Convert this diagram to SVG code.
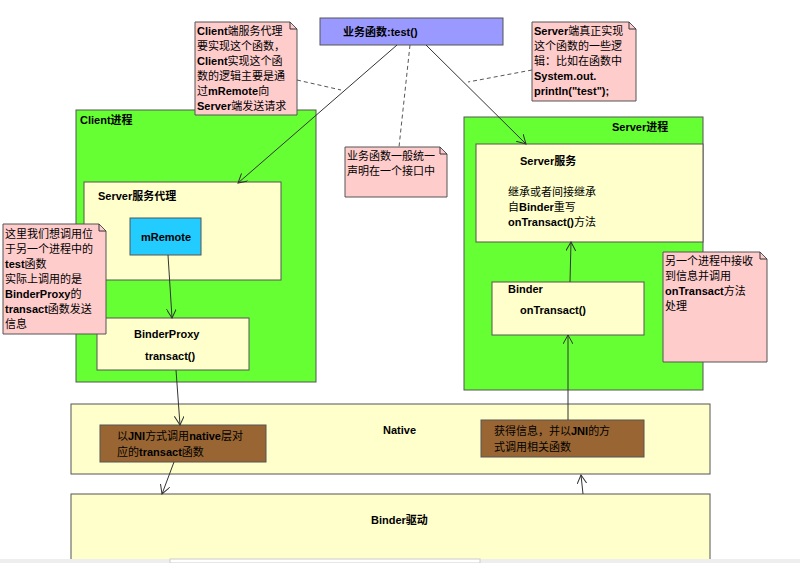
<svg xmlns="http://www.w3.org/2000/svg" width="800" height="563" viewBox="0 0 800 563">
<defs>
<style>
text{font-family:"Liberation Sans","Noto Sans CJK SC",sans-serif;font-size:11px;fill:#000}
.b{font-weight:bold}
.box{stroke:#555;stroke-width:1}
.note{fill:#ffcccc;stroke:#555;stroke-width:1}
.y{fill:#ffffcc}
.g{fill:#66ff33}
.br{fill:#996633}
.c{stroke:#333;stroke-width:1;fill:none}
.d{stroke:#555;stroke-width:1;fill:none;stroke-dasharray:4,3}
</style>
<marker id="a" markerWidth="10" markerHeight="10" refX="9" refY="5" orient="auto" markerUnits="userSpaceOnUse"><path d="M0,0 L9,5 L0,10" fill="none" stroke="#333"/></marker>
</defs>
<rect width="800" height="563" fill="#fff"/>
<g id="client"><rect class="box g" x="76" y="110" width="240" height="272"/><text class="b" x="80" y="124">Client进程</text></g>
<g id="server"><rect class="box g" x="464" y="117" width="239" height="273"/><text class="b" x="612" y="131">Server进程</text></g>
<g id="proxy"><rect class="box y" x="84" y="182" width="197" height="98"/><text class="b" x="98" y="200">Server服务代理</text></g>
<g id="mremote"><rect class="box" fill="#22ccff" x="130" y="218" width="71" height="37"/><text class="b" x="141" y="241">mRemote</text></g>
<g id="binderproxy"><rect class="box y" x="97" y="318" width="152" height="52"/><text class="b" x="134" y="338">BinderProxy</text><text class="b" x="145" y="360">transact()</text></g>
<g id="service"><rect class="box y" x="476" y="144" width="227" height="98"/><text class="b" x="520" y="165">Server服务</text><text x="508" y="196">继承或者间接继承</text><text x="508" y="211">自<tspan class="b">Binder</tspan>重写</text><text x="508" y="226"><tspan class="b">onTransact()</tspan>方法</text></g>
<g id="binder"><rect class="box y" x="492" y="282" width="152" height="53"/><text class="b" x="508" y="293">Binder</text><text class="b" x="520" y="314">onTransact()</text></g>
<g id="native"><rect class="box y" x="71" y="404" width="639" height="70"/><text class="b" x="383" y="434">Native</text></g>
<g id="jni1"><rect class="box br" x="100" y="425" width="166" height="37"/><text x="117" y="440">以<tspan class="b">JNI</tspan>方式调用<tspan class="b">native</tspan>层对</text><text x="117" y="456">应的<tspan class="b">transact</tspan>函数</text></g>
<g id="jni2"><rect class="box br" x="481" y="420" width="163" height="37"/><text x="494" y="435">获得信息，并以<tspan class="b">JNI</tspan>的方</text><text x="494" y="451">式调用相关函数</text></g>
<g id="driver"><rect class="box y" x="71" y="494" width="639" height="75"/><text class="b" x="371" y="524">Binder驱动</text></g>
<g id="test"><rect class="box" fill="#9999ff" x="320" y="18" width="183" height="27"/><text class="b" x="343" y="36">业务函数:test()</text></g>
<g id="note1"><path class="note" d="M195,22 H290 L297,29 V115 H195 Z"/><path class="c" d="M290,22 V29 H297"/>
<text class="b" x="197" y="35">Client<tspan font-weight="normal">端服务代理</tspan></text><text x="197" y="50">要实现这个函数，</text><text x="197" y="65"><tspan class="b">Client</tspan>实现这个函</text><text x="197" y="80">数的逻辑主要是通</text><text x="197" y="95">过<tspan class="b">mRemote</tspan>向</text><text x="197" y="110"><tspan class="b">Server</tspan>端发送请求</text></g>
<g id="note2"><path class="note" d="M532,22 H629 L636,29 V101 H532 Z"/><path class="c" d="M629,22 V29 H636"/>
<text x="534" y="35"><tspan class="b">Server</tspan>端真正实现</text><text x="534" y="50">这个函数的一些逻</text><text x="534" y="65">辑：比如在函数中</text><text class="b" x="534" y="80">System.out.</text><text class="b" x="534" y="95">println("test");</text></g>
<g id="note3"><path class="note" d="M345,147 H440 L447,154 V197 H345 Z"/><path class="c" d="M440,147 V154 H447"/><text x="347" y="160">业务函数一般统一</text><text x="347" y="175">声明在一个接口中</text></g>
<g id="note4"><path class="note" d="M3,224 H99 L106,231 V334 H3 Z"/><path class="c" d="M99,224 V231 H106"/>
<text x="5" y="238">这里我们想调用位</text><text x="5" y="253">于另一个进程中的</text><text class="b" x="5" y="268">test<tspan font-weight="normal">函数</tspan></text><text x="5" y="283">实际上调用的是</text><text x="5" y="298"><tspan class="b">BinderProxy</tspan>的</text><text x="5" y="313"><tspan class="b">transact</tspan>函数发送</text><text x="5" y="328">信息</text></g>
<g id="note5"><path class="note" d="M663,252 H760 L767,259 V362 H663 Z"/><path class="c" d="M760,252 V259 H767"/>
<text x="665" y="265">另一个进程中接收</text><text x="665" y="280">到信息并调用</text><text x="665" y="295"><tspan class="b">onTransact</tspan>方法</text><text x="665" y="310">处理</text></g>
<g id="connectors">
<line class="c" x1="397" y1="45" x2="238" y2="183" marker-end="url(#a)"/>
<line class="c" x1="426" y1="45" x2="526" y2="144" marker-end="url(#a)"/>
<line class="d" x1="410" y1="45" x2="399" y2="147"/>
<line class="d" x1="297" y1="80" x2="341" y2="90"/>
<line class="d" x1="532" y1="70" x2="468" y2="82"/>
<line class="c" x1="168" y1="255" x2="172" y2="318" marker-end="url(#a)"/>
<line class="c" x1="176" y1="370" x2="180" y2="425" marker-end="url(#a)"/>
<line class="c" x1="174" y1="462" x2="162" y2="494" marker-end="url(#a)"/>
<line class="c" x1="583" y1="494" x2="581" y2="475" marker-end="url(#a)"/>
<line class="c" x1="568" y1="420" x2="568" y2="335" marker-end="url(#a)"/>
<line class="c" x1="570" y1="282" x2="571" y2="242" marker-end="url(#a)"/>
</g>
<rect x="0" y="559" width="800" height="4" fill="#eee"/><rect x="170" y="559" width="310" height="4" fill="#fff" stroke="#ccc"/>
</svg>
